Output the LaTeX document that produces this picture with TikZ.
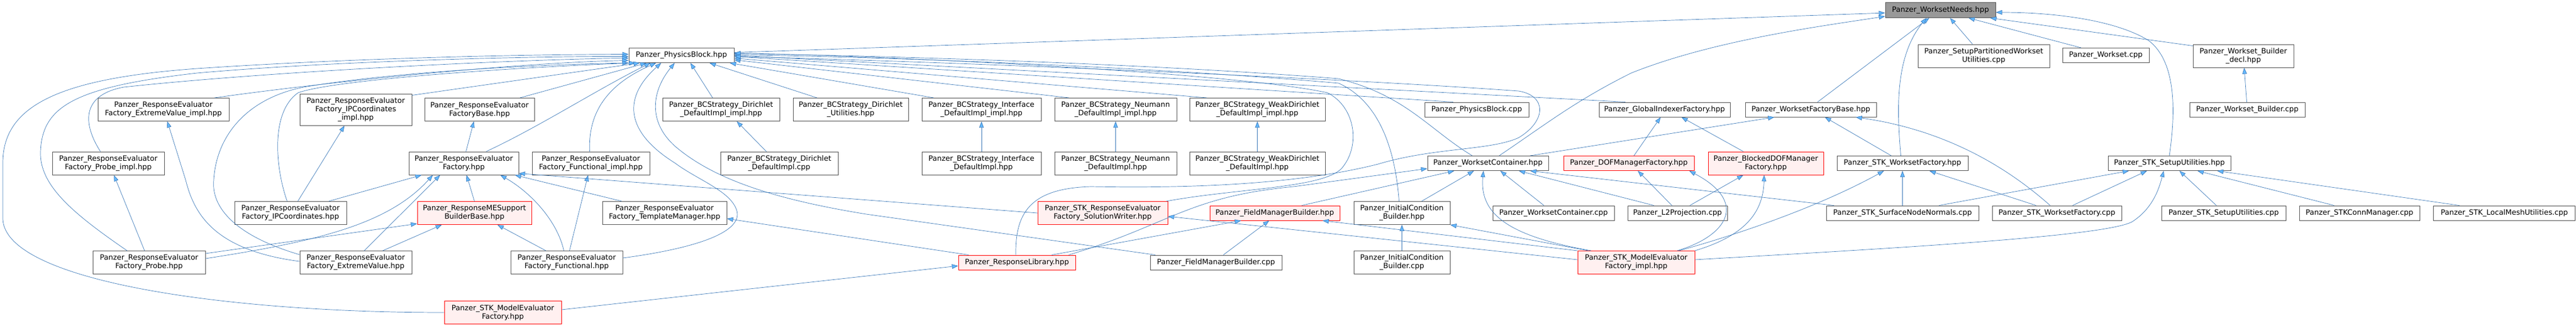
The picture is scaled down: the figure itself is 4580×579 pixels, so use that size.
\documentclass[tikz,border=0pt]{standalone}
\usepackage{fontspec}
\setmainfont{DejaVu Sans}
\usetikzlibrary{arrows.meta}
\definecolor{edgeblue}{HTML}{3A78B8}
\definecolor{arrowblue}{HTML}{63B8FF}
\definecolor{boxline}{HTML}{505050}
\definecolor{hlfill}{HTML}{FFF0F0}
\definecolor{rootfill}{HTML}{999999}

\begin{document}
\begin{tikzpicture}[x=1pt, y=-1pt,
  filebox/.style={draw=boxline, fill=white, line width=1pt, align=center, inner xsep=2pt, inner ysep=1pt, minimum height=26pt, font=\fontsize{13}{15}\selectfont},
  tall/.style={minimum height=41pt},
  taller/.style={minimum height=56pt},
  truncated/.style={draw=red, fill=hlfill},
  rootbox/.style={fill=rootfill, draw=boxline, minimum height=27pt},
  dep/.style={draw=edgeblue, line width=0.7pt, -{Triangle[length=11pt,width=8pt,fill=arrowblue]}}]
\useasboundingbox (0,0) rectangle (4580,579);

% rank 0 and 1
\node[filebox, rootbox, minimum width=196pt] (needs) at (3450,18) {Panzer\_WorksetNeeds.hpp};
\node[filebox, minimum width=187pt] (pb) at (1211.5,98.5) {Panzer\_PhysicsBlock.hpp};
\node[filebox, tall, minimum width=234pt] (setuppart) at (3527,99.5) {Panzer\_SetupPartitionedWorkset\\Utilities.cpp};
\node[filebox, minimum width=154pt] (wscpp) at (3744,98.5) {Panzer\_Workset.cpp};
\node[filebox, tall, minimum width=179pt] (wbdecl) at (3988.5,99.5) {Panzer\_Workset\_Builder\\\_decl.hpp};

% rank 2
\node[filebox, tall, minimum width=233pt] (evimpl) at (290.5,195) {Panzer\_ResponseEvaluator\\Factory\_ExtremeValue\_impl.hpp};
\node[filebox, taller, minimum width=199pt] (ipcimpl) at (632.5,195) {Panzer\_ResponseEvaluator\\Factory\_IPCoordinates\\\_impl.hpp};
\node[filebox, tall, minimum width=195pt] (refbase) at (852.5,195) {Panzer\_ResponseEvaluator\\FactoryBase.hpp};
\node[filebox, tall, minimum width=208pt] (bcdirimpl) at (1282,195) {Panzer\_BCStrategy\_Dirichlet\\\_DefaultImpl\_impl.hpp};
\node[filebox, tall, minimum width=205pt] (bcdirutil) at (1512.5,195) {Panzer\_BCStrategy\_Dirichlet\\\_Utilities.hpp};
\node[filebox, tall, minimum width=212pt] (bcifimpl) at (1745,195) {Panzer\_BCStrategy\_Interface\\\_DefaultImpl\_impl.hpp};
\node[filebox, tall, minimum width=217pt] (bcneuimpl) at (1983.5,195) {Panzer\_BCStrategy\_Neumann\\\_DefaultImpl\_impl.hpp};
\node[filebox, tall, minimum width=241pt] (bcwdimpl) at (2235.5,195) {Panzer\_BCStrategy\_WeakDirichlet\\\_DefaultImpl\_impl.hpp};
\node[filebox, minimum width=185pt] (pbcpp) at (2625.5,195) {Panzer\_PhysicsBlock.cpp};
\node[filebox, minimum width=233pt] (gif) at (2959.5,195) {Panzer\_GlobalIndexerFactory.hpp};
\node[filebox, minimum width=233pt] (wsfb) at (3219.5,195) {Panzer\_WorksetFactoryBase.hpp};
\node[filebox, minimum width=205pt] (wbcpp) at (3995.5,195) {Panzer\_Workset\_Builder.cpp};

% rank 3
\node[filebox, tall, minimum width=199pt] (probeimpl) at (192.5,290.5) {Panzer\_ResponseEvaluator\\Factory\_Probe\_impl.hpp};
\node[filebox, tall, minimum width=195pt] (ref) at (824.5,290.5) {Panzer\_ResponseEvaluator\\Factory.hpp};
\node[filebox, tall, minimum width=209pt] (funcimpl) at (1050.5,290.5) {Panzer\_ResponseEvaluator\\Factory\_Functional\_impl.hpp};
\node[filebox, tall, minimum width=209pt] (bcdircpp) at (1385.5,290.5) {Panzer\_BCStrategy\_Dirichlet\\\_DefaultImpl.cpp};
\node[filebox, tall, minimum width=212pt] (bcif) at (1745,290.5) {Panzer\_BCStrategy\_Interface\\\_DefaultImpl.hpp};
\node[filebox, tall, minimum width=217pt] (bcneu) at (1983.5,290.5) {Panzer\_BCStrategy\_Neumann\\\_DefaultImpl.hpp};
\node[filebox, tall, minimum width=241pt] (bcwd) at (2235.5,290.5) {Panzer\_BCStrategy\_WeakDirichlet\\\_DefaultImpl.hpp};
\node[filebox, minimum width=215pt] (wsc) at (2645.5,290.5) {Panzer\_WorksetContainer.hpp};
\node[filebox, truncated, minimum width=232pt] (dofmf) at (2896,290.5) {Panzer\_DOFManagerFactory.hpp};
\node[filebox, tall, truncated, minimum width=205pt] (bdofmf) at (3139.5,290.5) {Panzer\_BlockedDOFManager\\Factory.hpp};
\node[filebox, minimum width=233pt] (stkwsf) at (3382.5,290.5) {Panzer\_STK\_WorksetFactory.hpp};
\node[filebox, minimum width=218pt] (stksu) at (3857,290.5) {Panzer\_STK\_SetupUtilities.hpp};

% rank 4
\node[filebox, tall, minimum width=199pt] (ipc) at (516.5,379) {Panzer\_ResponseEvaluator\\Factory\_IPCoordinates.hpp};
\node[filebox, tall, truncated, minimum width=203pt] (mesb) at (843.5,379) {Panzer\_ResponseMESupport\\BuilderBase.hpp};
\node[filebox, tall, minimum width=221pt] (tm) at (1181.5,379) {Panzer\_ResponseEvaluator\\Factory\_TemplateManager.hpp};
\node[filebox, tall, truncated, minimum width=231pt] (solw) at (1960.5,379) {Panzer\_STK\_ResponseEvaluator\\Factory\_SolutionWriter.hpp};
\node[filebox, truncated, minimum width=231pt] (fmb) at (2266.5,379) {Panzer\_FieldManagerBuilder.hpp};
\node[filebox, tall, minimum width=171pt] (icb) at (2492.5,379) {Panzer\_InitialCondition\\\_Builder.hpp};
\node[filebox, minimum width=216pt] (wsccpp) at (2762,379) {Panzer\_WorksetContainer.cpp};
\node[filebox, minimum width=177pt] (l2p) at (2982.5,379) {Panzer\_L2Projection.cpp};
\node[filebox, minimum width=271pt] (snn) at (3382.5,379) {Panzer\_STK\_SurfaceNodeNormals.cpp};
\node[filebox, minimum width=230pt] (stkwsfcpp) at (3657,379) {Panzer\_STK\_WorksetFactory.cpp};
\node[filebox, minimum width=221pt] (stksucpp) at (3953.5,379) {Panzer\_STK\_SetupUtilities.cpp};
\node[filebox, minimum width=214pt] (connm) at (4195,379) {Panzer\_STKConnManager.cpp};
\node[filebox, minimum width=252pt] (lmu) at (4452.5,379) {Panzer\_STK\_LocalMeshUtilities.cpp};

% rank 5 and 6
\node[filebox, tall, minimum width=200pt] (probe) at (265,467) {Panzer\_ResponseEvaluator\\Factory\_Probe.hpp};
\node[filebox, tall, minimum width=199pt] (ev) at (632.5,467) {Panzer\_ResponseEvaluator\\Factory\_ExtremeValue.hpp};
\node[filebox, tall, minimum width=199pt] (func) at (1007.5,467) {Panzer\_ResponseEvaluator\\Factory\_Functional.hpp};
\node[filebox, truncated, minimum width=208pt] (rlib) at (1808,467) {Panzer\_ResponseLibrary.hpp};
\node[filebox, minimum width=234pt] (fmbcpp) at (2162,467) {Panzer\_FieldManagerBuilder.cpp};
\node[filebox, tall, minimum width=171pt] (iccpp) at (2492.5,467) {Panzer\_InitialCondition\\\_Builder.cpp};
\node[filebox, tall, truncated, minimum width=208pt] (meimpl) at (2909,467) {Panzer\_STK\_ModelEvaluator\\Factory\_impl.hpp};
\node[filebox, tall, truncated, minimum width=208pt] (mef) at (894,556) {Panzer\_STK\_ModelEvaluator\\Factory.hpp};

% into WorksetNeeds
\draw[dep] ([yshift=5]pb.east) -- ([yshift=-5]needs.west);
\draw[dep] ([xshift=20]wsc.north) .. controls (2750,220) and (2800,180) .. (2900,130) .. controls (3050,70) and (3250,45) .. ([yshift=3]needs.south west);
\draw[dep] ([xshift=12]wsfb.north) -- ([xshift=-20]needs.south);
\draw[dep] ([xshift=-3]stkwsf.north) .. controls (3372,190) and (3370,100) .. ([xshift=-25]needs.south);
\draw[dep] ([xshift=-20]setuppart.north) -- ([xshift=17]needs.south);
\draw[dep] ([xshift=-44]wscpp.north) -- ([xshift=50]needs.south);
\draw[dep] ([yshift=-3]wbdecl.north west) -- ([xshift=-10]needs.south east);
\draw[dep] (stksu.north) .. controls (3868,200) and (3870,110) .. (3820,72) .. controls (3760,35) and (3650,22) .. ([yshift=-4]needs.east);
\draw[dep] (wbcpp) -- (wbdecl);

% into PhysicsBlock from the left
\draw[dep] (mef.west) .. controls (400,556) and (10,500) .. (5,390) -- (5,290) .. controls (5,190) and (100,140) .. (350,122) .. controls (600,105) and (900,97) .. ([yshift=2]pb.west);
\draw[dep] ([xshift=-39]probe.north) .. controls (130,380) and (70,330) .. (72,270) .. controls (75,190) and (130,155) .. (350,130) .. controls (600,108) and (950,100) .. ([yshift=-2]pb.west);
\draw[dep] ([xshift=-14]probeimpl.north) .. controls (150,225) and (140,170) .. (220,155) .. controls (500,125) and (950,105) .. ([yshift=-5]pb.west);
\draw[dep] ([xshift=-26]evimpl.north east) .. controls (550,150) and (900,112) .. ([yshift=-9]pb.west);
\draw[dep] ([yshift=14]ev.west) .. controls (420,420) and (375,370) .. (380,320) .. controls (385,240) and (440,175) .. (540,155) .. controls (700,128) and (950,115) .. (pb.south west);
\draw[dep] ([xshift=-6]ipc.north) .. controls (490,300) and (480,200) .. (530,165) .. controls (600,140) and (950,118) .. ([xshift=12]pb.south west);
\draw[dep] ([yshift=-3]ipcimpl.north east) -- ([xshift=20]pb.south west);
\draw[dep] ([xshift=72]refbase.north) -- ([xshift=-62]pb.south);
\draw[dep] ([xshift=40]ref.north) .. controls (960,225) and (1060,160) .. ([xshift=-55]pb.south);
\draw[dep] ([xshift=-2]funcimpl.north) .. controls (1045,200) and (1080,150) .. ([xshift=-45]pb.south);
\draw[dep] ([yshift=8]func.east) .. controls (1250,440) and (1320,410) .. (1310,375) .. controls (1300,340) and (1240,320) .. (1200,290) .. controls (1120,240) and (1100,180) .. ([xshift=-36]pb.south);
\draw[dep] ([xshift=-108]fmbcpp.north) -- (1540,381) .. controls (1380,355) and (1270,320) .. (1200,260) .. controls (1150,215) and (1160,160) .. ([xshift=-12]pb.south);

% into PhysicsBlock from the right
\draw[dep] ([xshift=-15]bcdirimpl.north) -- ([xshift=16]pb.south);
\draw[dep] ([xshift=-60]bcdirutil.north) -- ([xshift=50]pb.south);
\draw[dep] ([xshift=-85]bcifimpl.north) -- ([xshift=-8]pb.south east);
\draw[dep] ([xshift=-83]bcneuimpl.north) -- ([yshift=-8]pb.east);
\draw[dep] ([xshift=-90]bcwdimpl.north) -- ([yshift=-5]pb.east);
\draw[dep] ([xshift=-42]pbcpp.north) -- ([yshift=-2]pb.east);
\draw[dep] ([xshift=-70]gif.north) -- (pb.east);
\draw[dep] ([xshift=-28]wsc.north) .. controls (2540,230) and (2500,170) .. (2380,140) .. controls (2000,110) and (1500,98) .. ([yshift=3]pb.east);
\draw[dep] ([xshift=-5]icb.north) .. controls (2480,260) and (2450,180) .. (2380,148) .. controls (2000,115) and (1500,100) .. ([yshift=1]pb.east);
\draw[dep] ([xshift=-3]solw.north east) .. controls (2200,335) and (2350,335) .. (2385,300) .. controls (2420,260) and (2410,190) .. (2360,165) .. controls (2200,130) and (1600,100) .. ([yshift=4]pb.east);
\draw[dep] ([xshift=-2]rlib.north) .. controls (1805,380) and (1830,335) .. (1940,332) .. controls (2100,335) and (2300,330) .. (2450,292) .. controls (2550,262) and (2650,268) .. (2700,245) .. controls (2750,215) and (2750,170) .. (2700,162) .. controls (2400,140) and (1700,110) .. ([yshift=-2]pb.east);

% boundary condition strategies
\draw[dep] ([xshift=-23]bcdircpp.north) -- ([xshift=28]bcdirimpl.south);
\draw[dep] (bcif) -- (bcifimpl);
\draw[dep] (bcneu) -- (bcneuimpl);
\draw[dep] (bcwd) -- (bcwdimpl);

% response evaluators
\draw[dep] ([yshift=2]ev.west) .. controls (380,445) and (345,380) .. (330,320) -- ([xshift=7]evimpl.south);
\draw[dep] ([xshift=-8]probe.north) -- ([xshift=10]probeimpl.south);
\draw[dep] ([xshift=13]ipc.north) -- ([xshift=-20]ipcimpl.south);
\draw[dep] ([xshift=68]ipc.north) -- ([xshift=-75]ref.south);
\draw[dep] ([yshift=7]probe.east) .. controls (560,430) and (690,400) .. ([xshift=-55]ref.south);
\draw[dep] ([yshift=16]probe.east) -- ([yshift=2]mesb.south west);
\draw[dep] ([xshift=15]ev.north) -- ([xshift=-42]ref.south);
\draw[dep] ([xshift=48]ev.north) -- ([xshift=-58]mesb.south);
\draw[dep] ([xshift=-37]func.north) -- ([xshift=41]mesb.south);
\draw[dep] ([xshift=-5]func.north) .. controls (990,390) and (940,340) .. ([xshift=65]ref.south);
\draw[dep] ([xshift=5]func.north) -- ([xshift=-5]funcimpl.south);
\draw[dep] (mesb.north) -- ([xshift=5]ref.south);
\draw[dep] ([xshift=4]ref.north) -- ([xshift=-10]refbase.south);
\draw[dep] ([xshift=-76]tm.north) -- ([xshift=-7]ref.south east);
\draw[dep] (solw.west) -- ([yshift=3]ref.south east);
\draw[dep] ([xshift=-86]rlib.north) -- ([yshift=-10]tm.east);
\draw[dep] ([yshift=5]mef.east) -- ([yshift=-6]rlib.west);

% field managers and workset container
\draw[dep] ([xshift=62]rlib.north) -- ([xshift=-60]fmb.south);
\draw[dep] ([xshift=13]fmbcpp.north) -- ([xshift=-10]fmb.south);
\draw[dep] ([xshift=92]rlib.north) .. controls (2080,400) and (2110,350) .. (2300,332) -- ([yshift=4]wsc.south west);
\draw[dep] ([yshift=5]meimpl.west) -- ([yshift=-6]solw.east);
\draw[dep] (meimpl.north west) -- ([xshift=85]fmb.south);
\draw[dep] ([xshift=-85]meimpl.north) -- (icb.south east);
\draw[dep] ([xshift=-80]meimpl.north) .. controls (2680,420) and (2630,380) .. ([xshift=-8]wsc.south);
\draw[dep] (iccpp) -- (icb);
\draw[dep] ([xshift=35]icb.north) -- ([xshift=-25]wsc.south);
\draw[dep] ([xshift=48]fmb.north) -- ([xshift=-60]wsc.south);
\draw[dep] ([xshift=-17]wsccpp.north) -- ([xshift=22]wsc.south);
\draw[dep] ([xshift=-42]l2p.north) -- ([xshift=55]wsc.south);
\draw[dep] ([xshift=-122]snn.north) -- ([xshift=75]wsc.south);

% DOF managers
\draw[dep] ([xshift=-10]l2p.north) -- ([xshift=16]dofmf.south);
\draw[dep] ([xshift=22]l2p.north) -- ([xshift=-40]bdofmf.south);
\draw[dep] ([xshift=73]meimpl.north) .. controls (3070,420) and (3110,360) .. ([xshift=-9]dofmf.south east);
\draw[dep] (meimpl.north east) .. controls (3100,420) and (3135,380) .. ([xshift=-3]bdofmf.south);
\draw[dep] ([xshift=9]dofmf.north) -- ([xshift=-7]gif.south);
\draw[dep] ([xshift=-40]bdofmf.north) -- ([xshift=30]gif.south);

% workset factories and STK setup
\draw[dep] ([xshift=75]wsc.north) -- ([xshift=-65]wsfb.south);
\draw[dep] ([xshift=-20]stkwsf.north) -- ([xshift=25]wsfb.south);
\draw[dep] ([xshift=-12]stkwsfcpp.north) .. controls (3560,290) and (3450,230) .. ([xshift=80]wsfb.south);
\draw[dep] (snn) -- (stkwsf);
\draw[dep] ([xshift=-37]stkwsfcpp.north) -- ([xshift=48]stkwsf.south);
\draw[dep] ([xshift=76]meimpl.north) .. controls (3080,420) and (3230,370) .. ([xshift=-33]stkwsf.south);
\draw[dep] ([xshift=65]snn.north) -- ([xshift=-72]stksu.south);
\draw[dep] ([xshift=28]stkwsfcpp.north) -- ([xshift=-40]stksu.south);
\draw[dep] ([yshift=5]meimpl.east) .. controls (3400,440) and (3740,420) .. (3790,395) .. controls (3830,370) and (3840,330) .. ([xshift=-10]stksu.south);
\draw[dep] ([xshift=-13]stksucpp.north) -- ([xshift=18]stksu.south);
\draw[dep] ([xshift=-45]connm.north) -- ([xshift=50]stksu.south);
\draw[dep] ([xshift=-80]lmu.north) -- ([xshift=85]stksu.south);
\end{tikzpicture}
\end{document}
